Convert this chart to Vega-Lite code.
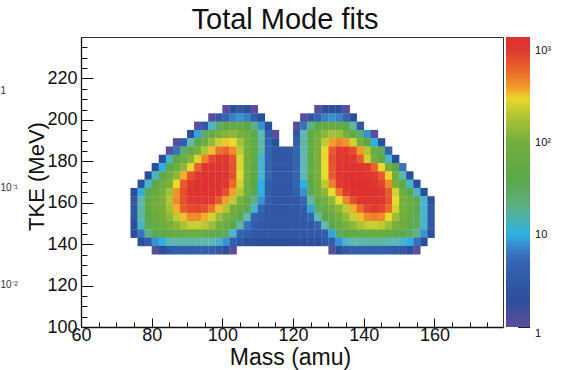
{
"$schema": "https://vega.github.io/schema/vega-lite/v6.json",
"autosize": {"type": "none"},
"padding": {"left": 81, "top": 37, "right": 67, "bottom": 43},
"width": 422,
"height": 290,
"background": "white",
"title": {"text": "Total Mode fits", "fontSize": 29, "font": "Liberation Sans", "fontWeight": "normal", "color": "#111", "anchor": "middle", "frame": "group", "baseline": "alphabetic", "offset": 7, "dx": -7, "dy": 31},
"config": {"view": {"stroke": "#333", "strokeWidth": 1}, "font": "Liberation Sans"},
"resolve": {"scale": {"y": "independent"}, "axis": {"x": "independent", "y": "independent"}},
"layer": [
{
"data": {"values": [
{"m":100,"t":203,"c":1},{"m":102,"t":203,"c":2},{"m":104,"t":203,"c":3},{"m":106,"t":203,"c":2},{"m":108,"t":203,"c":1},
{"m":96,"t":199,"c":1},{"m":98,"t":199,"c":3},{"m":100,"t":199,"c":5},{"m":102,"t":199,"c":7},{"m":104,"t":199,"c":8},{"m":106,"t":199,"c":7},{"m":108,"t":199,"c":4},{"m":110,"t":199,"c":2},
{"m":92,"t":195,"c":1},{"m":94,"t":195,"c":3},{"m":96,"t":195,"c":11},{"m":98,"t":195,"c":28},{"m":100,"t":195,"c":45},{"m":102,"t":195,"c":55},{"m":104,"t":195,"c":55},{"m":106,"t":195,"c":40},{"m":108,"t":195,"c":20},{"m":110,"t":195,"c":8},{"m":112,"t":195,"c":2},
{"m":90,"t":191,"c":2},{"m":92,"t":191,"c":9},{"m":94,"t":191,"c":28},{"m":96,"t":191,"c":60},{"m":98,"t":191,"c":100},{"m":100,"t":191,"c":140},{"m":102,"t":191,"c":150},{"m":104,"t":191,"c":130},{"m":106,"t":191,"c":90},{"m":108,"t":191,"c":45},{"m":110,"t":191,"c":12},{"m":112,"t":191,"c":4},{"m":114,"t":191,"c":1},
{"m":86,"t":187,"c":1},{"m":88,"t":187,"c":4},{"m":90,"t":187,"c":12},{"m":92,"t":187,"c":40},{"m":94,"t":187,"c":85},{"m":96,"t":187,"c":160},{"m":98,"t":187,"c":240},{"m":100,"t":187,"c":320},{"m":102,"t":187,"c":300},{"m":104,"t":187,"c":180},{"m":106,"t":187,"c":110},{"m":108,"t":187,"c":50},{"m":110,"t":187,"c":15},{"m":112,"t":187,"c":5},{"m":114,"t":187,"c":2},
{"m":84,"t":183,"c":1},{"m":86,"t":183,"c":6},{"m":88,"t":183,"c":25},{"m":90,"t":183,"c":60},{"m":92,"t":183,"c":120},{"m":94,"t":183,"c":200},{"m":96,"t":183,"c":330},{"m":98,"t":183,"c":550},{"m":100,"t":183,"c":650},{"m":102,"t":183,"c":450},{"m":104,"t":183,"c":220},{"m":106,"t":183,"c":120},{"m":108,"t":183,"c":50},{"m":110,"t":183,"c":14},{"m":112,"t":183,"c":5},{"m":114,"t":183,"c":3},
{"m":82,"t":179,"c":2},{"m":84,"t":179,"c":11},{"m":86,"t":179,"c":40},{"m":88,"t":179,"c":80},{"m":90,"t":179,"c":140},{"m":92,"t":179,"c":260},{"m":94,"t":179,"c":480},{"m":96,"t":179,"c":850},{"m":98,"t":179,"c":1100},{"m":100,"t":179,"c":1100},{"m":102,"t":179,"c":750},{"m":104,"t":179,"c":260},{"m":106,"t":179,"c":120},{"m":108,"t":179,"c":50},{"m":110,"t":179,"c":11},{"m":112,"t":179,"c":5},{"m":114,"t":179,"c":3},
{"m":80,"t":175,"c":2},{"m":82,"t":175,"c":10},{"m":84,"t":175,"c":45},{"m":86,"t":175,"c":80},{"m":88,"t":175,"c":150},{"m":90,"t":175,"c":300},{"m":92,"t":175,"c":650},{"m":94,"t":175,"c":1100},{"m":96,"t":175,"c":1300},{"m":98,"t":175,"c":1300},{"m":100,"t":175,"c":1200},{"m":102,"t":175,"c":800},{"m":104,"t":175,"c":260},{"m":106,"t":175,"c":110},{"m":108,"t":175,"c":45},{"m":110,"t":175,"c":11},{"m":112,"t":175,"c":5},{"m":114,"t":175,"c":3},
{"m":78,"t":171,"c":2},{"m":80,"t":171,"c":11},{"m":82,"t":171,"c":45},{"m":84,"t":171,"c":90},{"m":86,"t":171,"c":150},{"m":88,"t":171,"c":350},{"m":90,"t":171,"c":800},{"m":92,"t":171,"c":1100},{"m":94,"t":171,"c":1300},{"m":96,"t":171,"c":1400},{"m":98,"t":171,"c":1300},{"m":100,"t":171,"c":1200},{"m":102,"t":171,"c":800},{"m":104,"t":171,"c":280},{"m":106,"t":171,"c":110},{"m":108,"t":171,"c":45},{"m":110,"t":171,"c":11},{"m":112,"t":171,"c":5},{"m":114,"t":171,"c":3},
{"m":76,"t":167,"c":2},{"m":78,"t":167,"c":11},{"m":80,"t":167,"c":45},{"m":82,"t":167,"c":80},{"m":84,"t":167,"c":130},{"m":86,"t":167,"c":280},{"m":88,"t":167,"c":700},{"m":90,"t":167,"c":1000},{"m":92,"t":167,"c":1300},{"m":94,"t":167,"c":1400},{"m":96,"t":167,"c":1400},{"m":98,"t":167,"c":1300},{"m":100,"t":167,"c":1100},{"m":102,"t":167,"c":600},{"m":104,"t":167,"c":250},{"m":106,"t":167,"c":100},{"m":108,"t":167,"c":40},{"m":110,"t":167,"c":10},{"m":112,"t":167,"c":4},{"m":114,"t":167,"c":3},
{"m":74,"t":163,"c":2},{"m":76,"t":163,"c":10},{"m":78,"t":163,"c":35},{"m":80,"t":163,"c":70},{"m":82,"t":163,"c":110},{"m":84,"t":163,"c":180},{"m":86,"t":163,"c":420},{"m":88,"t":163,"c":800},{"m":90,"t":163,"c":1100},{"m":92,"t":163,"c":1300},{"m":94,"t":163,"c":1350},{"m":96,"t":163,"c":1300},{"m":98,"t":163,"c":1200},{"m":100,"t":163,"c":800},{"m":102,"t":163,"c":380},{"m":104,"t":163,"c":200},{"m":106,"t":163,"c":90},{"m":108,"t":163,"c":35},{"m":110,"t":163,"c":10},{"m":112,"t":163,"c":4},{"m":114,"t":163,"c":3},
{"m":74,"t":159,"c":3},{"m":76,"t":159,"c":14},{"m":78,"t":159,"c":50},{"m":80,"t":159,"c":90},{"m":82,"t":159,"c":130},{"m":84,"t":159,"c":200},{"m":86,"t":159,"c":450},{"m":88,"t":159,"c":800},{"m":90,"t":159,"c":1000},{"m":92,"t":159,"c":1200},{"m":94,"t":159,"c":1200},{"m":96,"t":159,"c":1000},{"m":98,"t":159,"c":700},{"m":100,"t":159,"c":380},{"m":102,"t":159,"c":220},{"m":104,"t":159,"c":130},{"m":106,"t":159,"c":60},{"m":108,"t":159,"c":20},{"m":110,"t":159,"c":8},{"m":112,"t":159,"c":4},{"m":114,"t":159,"c":3},
{"m":74,"t":155,"c":3},{"m":76,"t":155,"c":14},{"m":78,"t":155,"c":50},{"m":80,"t":155,"c":80},{"m":82,"t":155,"c":120},{"m":84,"t":155,"c":180},{"m":86,"t":155,"c":350},{"m":88,"t":155,"c":700},{"m":90,"t":155,"c":850},{"m":92,"t":155,"c":900},{"m":94,"t":155,"c":800},{"m":96,"t":155,"c":550},{"m":98,"t":155,"c":330},{"m":100,"t":155,"c":200},{"m":102,"t":155,"c":120},{"m":104,"t":155,"c":70},{"m":106,"t":155,"c":35},{"m":108,"t":155,"c":11},{"m":110,"t":155,"c":5},{"m":112,"t":155,"c":3},{"m":114,"t":155,"c":3},
{"m":74,"t":151,"c":3},{"m":76,"t":151,"c":13},{"m":78,"t":151,"c":45},{"m":80,"t":151,"c":75},{"m":82,"t":151,"c":105},{"m":84,"t":151,"c":150},{"m":86,"t":151,"c":220},{"m":88,"t":151,"c":330},{"m":90,"t":151,"c":450},{"m":92,"t":151,"c":450},{"m":94,"t":151,"c":350},{"m":96,"t":151,"c":250},{"m":98,"t":151,"c":170},{"m":100,"t":151,"c":110},{"m":102,"t":151,"c":70},{"m":104,"t":151,"c":40},{"m":106,"t":151,"c":12},{"m":108,"t":151,"c":5},{"m":110,"t":151,"c":4},{"m":112,"t":151,"c":3},{"m":114,"t":151,"c":3},
{"m":74,"t":147,"c":2},{"m":76,"t":147,"c":11},{"m":78,"t":147,"c":35},{"m":80,"t":147,"c":60},{"m":82,"t":147,"c":85},{"m":84,"t":147,"c":115},{"m":86,"t":147,"c":150},{"m":88,"t":147,"c":190},{"m":90,"t":147,"c":230},{"m":92,"t":147,"c":240},{"m":94,"t":147,"c":210},{"m":96,"t":147,"c":170},{"m":98,"t":147,"c":120},{"m":100,"t":147,"c":75},{"m":102,"t":147,"c":40},{"m":104,"t":147,"c":14},{"m":106,"t":147,"c":6},{"m":108,"t":147,"c":4},{"m":110,"t":147,"c":3},{"m":112,"t":147,"c":3},{"m":114,"t":147,"c":3},
{"m":74,"t":143,"c":2},{"m":76,"t":143,"c":6},{"m":78,"t":143,"c":20},{"m":80,"t":143,"c":35},{"m":82,"t":143,"c":48},{"m":84,"t":143,"c":60},{"m":86,"t":143,"c":70},{"m":88,"t":143,"c":75},{"m":90,"t":143,"c":75},{"m":92,"t":143,"c":70},{"m":94,"t":143,"c":65},{"m":96,"t":143,"c":55},{"m":98,"t":143,"c":45},{"m":100,"t":143,"c":30},{"m":102,"t":143,"c":11},{"m":104,"t":143,"c":5},{"m":106,"t":143,"c":4},{"m":108,"t":143,"c":3},{"m":110,"t":143,"c":3},{"m":112,"t":143,"c":3},{"m":114,"t":143,"c":3},
{"m":76,"t":139,"c":2},{"m":78,"t":139,"c":4},{"m":80,"t":139,"c":8},{"m":82,"t":139,"c":10},{"m":84,"t":139,"c":12},{"m":86,"t":139,"c":13},{"m":88,"t":139,"c":14},{"m":90,"t":139,"c":14},{"m":92,"t":139,"c":14},{"m":94,"t":139,"c":13},{"m":96,"t":139,"c":12},{"m":98,"t":139,"c":11},{"m":100,"t":139,"c":8},{"m":102,"t":139,"c":4},{"m":104,"t":139,"c":3},{"m":106,"t":139,"c":2},{"m":108,"t":139,"c":2},{"m":110,"t":139,"c":2},{"m":112,"t":139,"c":2},{"m":114,"t":139,"c":2},
{"m":80,"t":135,"c":1},{"m":82,"t":135,"c":2},{"m":84,"t":135,"c":3},{"m":86,"t":135,"c":4},{"m":88,"t":135,"c":4},{"m":90,"t":135,"c":4},{"m":92,"t":135,"c":4},{"m":94,"t":135,"c":4},{"m":96,"t":135,"c":4},{"m":98,"t":135,"c":3},{"m":100,"t":135,"c":2},{"m":102,"t":135,"c":1},
{"m":126,"t":203,"c":1},{"m":128,"t":203,"c":2},{"m":130,"t":203,"c":2},{"m":132,"t":203,"c":2},{"m":134,"t":203,"c":1},
{"m":122,"t":199,"c":1},{"m":124,"t":199,"c":3},{"m":126,"t":199,"c":5},{"m":128,"t":199,"c":7},{"m":130,"t":199,"c":8},{"m":132,"t":199,"c":7},{"m":134,"t":199,"c":5},{"m":136,"t":199,"c":2},
{"m":120,"t":195,"c":1},{"m":122,"t":195,"c":6},{"m":124,"t":195,"c":20},{"m":126,"t":195,"c":40},{"m":128,"t":195,"c":55},{"m":130,"t":195,"c":60},{"m":132,"t":195,"c":55},{"m":134,"t":195,"c":40},{"m":136,"t":195,"c":15},{"m":138,"t":195,"c":3},
{"m":120,"t":191,"c":3},{"m":122,"t":191,"c":12},{"m":124,"t":191,"c":45},{"m":126,"t":191,"c":90},{"m":128,"t":191,"c":150},{"m":130,"t":191,"c":180},{"m":132,"t":191,"c":170},{"m":134,"t":191,"c":120},{"m":136,"t":191,"c":60},{"m":138,"t":191,"c":25},{"m":140,"t":191,"c":8},{"m":142,"t":191,"c":1},
{"m":120,"t":187,"c":4},{"m":122,"t":187,"c":15},{"m":124,"t":187,"c":50},{"m":126,"t":187,"c":120},{"m":128,"t":187,"c":220},{"m":130,"t":187,"c":380},{"m":132,"t":187,"c":480},{"m":134,"t":187,"c":420},{"m":136,"t":187,"c":250},{"m":138,"t":187,"c":110},{"m":140,"t":187,"c":40},{"m":142,"t":187,"c":10},{"m":144,"t":187,"c":2},
{"m":116,"t":183,"c":3},{"m":118,"t":183,"c":3},{"m":120,"t":183,"c":5},{"m":122,"t":183,"c":12},{"m":124,"t":183,"c":50},{"m":126,"t":183,"c":130},{"m":128,"t":183,"c":300},{"m":130,"t":183,"c":700},{"m":132,"t":183,"c":1000},{"m":134,"t":183,"c":1000},{"m":136,"t":183,"c":800},{"m":138,"t":183,"c":400},{"m":140,"t":183,"c":200},{"m":142,"t":183,"c":80},{"m":144,"t":183,"c":30},{"m":146,"t":183,"c":5},
{"m":116,"t":179,"c":3},{"m":118,"t":179,"c":3},{"m":120,"t":179,"c":5},{"m":122,"t":179,"c":12},{"m":124,"t":179,"c":50},{"m":126,"t":179,"c":130},{"m":128,"t":179,"c":300},{"m":130,"t":179,"c":800},{"m":132,"t":179,"c":1100},{"m":134,"t":179,"c":1200},{"m":136,"t":179,"c":1100},{"m":138,"t":179,"c":700},{"m":140,"t":179,"c":250},{"m":142,"t":179,"c":100},{"m":144,"t":179,"c":45},{"m":146,"t":179,"c":11},{"m":148,"t":179,"c":2},
{"m":116,"t":175,"c":3},{"m":118,"t":175,"c":3},{"m":120,"t":175,"c":5},{"m":122,"t":175,"c":12},{"m":124,"t":175,"c":50},{"m":126,"t":175,"c":120},{"m":128,"t":175,"c":280},{"m":130,"t":175,"c":750},{"m":132,"t":175,"c":1200},{"m":134,"t":175,"c":1300},{"m":136,"t":175,"c":1300},{"m":138,"t":175,"c":1200},{"m":140,"t":175,"c":1000},{"m":142,"t":175,"c":650},{"m":144,"t":175,"c":300},{"m":146,"t":175,"c":120},{"m":148,"t":175,"c":40},{"m":150,"t":175,"c":6},
{"m":116,"t":171,"c":3},{"m":118,"t":171,"c":3},{"m":120,"t":171,"c":5},{"m":122,"t":171,"c":12},{"m":124,"t":171,"c":50},{"m":126,"t":171,"c":110},{"m":128,"t":171,"c":280},{"m":130,"t":171,"c":700},{"m":132,"t":171,"c":1200},{"m":134,"t":171,"c":1400},{"m":136,"t":171,"c":1400},{"m":138,"t":171,"c":1300},{"m":140,"t":171,"c":1200},{"m":142,"t":171,"c":1000},{"m":144,"t":171,"c":700},{"m":146,"t":171,"c":300},{"m":148,"t":171,"c":80},{"m":150,"t":171,"c":14},{"m":152,"t":171,"c":2},
{"m":116,"t":167,"c":3},{"m":118,"t":167,"c":3},{"m":120,"t":167,"c":5},{"m":122,"t":167,"c":10},{"m":124,"t":167,"c":40},{"m":126,"t":167,"c":100},{"m":128,"t":167,"c":220},{"m":130,"t":167,"c":500},{"m":132,"t":167,"c":1000},{"m":134,"t":167,"c":1300},{"m":136,"t":167,"c":1400},{"m":138,"t":167,"c":1400},{"m":140,"t":167,"c":1300},{"m":142,"t":167,"c":1200},{"m":144,"t":167,"c":900},{"m":146,"t":167,"c":450},{"m":148,"t":167,"c":120},{"m":150,"t":167,"c":45},{"m":152,"t":167,"c":11},{"m":154,"t":167,"c":2},
{"m":116,"t":163,"c":3},{"m":118,"t":163,"c":3},{"m":120,"t":163,"c":4},{"m":122,"t":163,"c":8},{"m":124,"t":163,"c":35},{"m":126,"t":163,"c":80},{"m":128,"t":163,"c":150},{"m":130,"t":163,"c":280},{"m":132,"t":163,"c":550},{"m":134,"t":163,"c":1000},{"m":136,"t":163,"c":1300},{"m":138,"t":163,"c":1350},{"m":140,"t":163,"c":1350},{"m":142,"t":163,"c":1300},{"m":144,"t":163,"c":1100},{"m":146,"t":163,"c":700},{"m":148,"t":163,"c":250},{"m":150,"t":163,"c":80},{"m":152,"t":163,"c":40},{"m":154,"t":163,"c":11},{"m":156,"t":163,"c":2},
{"m":116,"t":159,"c":3},{"m":118,"t":159,"c":3},{"m":120,"t":159,"c":3},{"m":122,"t":159,"c":5},{"m":124,"t":159,"c":15},{"m":126,"t":159,"c":50},{"m":128,"t":159,"c":100},{"m":130,"t":159,"c":150},{"m":132,"t":159,"c":280},{"m":134,"t":159,"c":480},{"m":136,"t":159,"c":800},{"m":138,"t":159,"c":1100},{"m":140,"t":159,"c":1200},{"m":142,"t":159,"c":1200},{"m":144,"t":159,"c":1100},{"m":146,"t":159,"c":750},{"m":148,"t":159,"c":280},{"m":150,"t":159,"c":110},{"m":152,"t":159,"c":70},{"m":154,"t":159,"c":35},{"m":156,"t":159,"c":11},{"m":158,"t":159,"c":2},
{"m":116,"t":155,"c":3},{"m":118,"t":155,"c":3},{"m":120,"t":155,"c":3},{"m":122,"t":155,"c":4},{"m":124,"t":155,"c":9},{"m":126,"t":155,"c":30},{"m":128,"t":155,"c":60},{"m":130,"t":155,"c":100},{"m":132,"t":155,"c":150},{"m":134,"t":155,"c":220},{"m":136,"t":155,"c":350},{"m":138,"t":155,"c":600},{"m":140,"t":155,"c":900},{"m":142,"t":155,"c":1000},{"m":144,"t":155,"c":900},{"m":146,"t":155,"c":600},{"m":148,"t":155,"c":250},{"m":150,"t":155,"c":110},{"m":152,"t":155,"c":70},{"m":154,"t":155,"c":35},{"m":156,"t":155,"c":11},{"m":158,"t":155,"c":3},
{"m":116,"t":151,"c":3},{"m":118,"t":151,"c":3},{"m":120,"t":151,"c":3},{"m":122,"t":151,"c":3},{"m":124,"t":151,"c":5},{"m":126,"t":151,"c":12},{"m":128,"t":151,"c":40},{"m":130,"t":151,"c":70},{"m":132,"t":151,"c":110},{"m":134,"t":151,"c":160},{"m":136,"t":151,"c":230},{"m":138,"t":151,"c":330},{"m":140,"t":151,"c":450},{"m":142,"t":151,"c":500},{"m":144,"t":151,"c":450},{"m":146,"t":151,"c":300},{"m":148,"t":151,"c":170},{"m":150,"t":151,"c":100},{"m":152,"t":151,"c":60},{"m":154,"t":151,"c":30},{"m":156,"t":151,"c":11},{"m":158,"t":151,"c":3},
{"m":116,"t":147,"c":3},{"m":118,"t":147,"c":3},{"m":120,"t":147,"c":3},{"m":122,"t":147,"c":3},{"m":124,"t":147,"c":3},{"m":126,"t":147,"c":5},{"m":128,"t":147,"c":12},{"m":130,"t":147,"c":40},{"m":132,"t":147,"c":70},{"m":134,"t":147,"c":110},{"m":136,"t":147,"c":150},{"m":138,"t":147,"c":190},{"m":140,"t":147,"c":230},{"m":142,"t":147,"c":240},{"m":144,"t":147,"c":220},{"m":146,"t":147,"c":170},{"m":148,"t":147,"c":120},{"m":150,"t":147,"c":80},{"m":152,"t":147,"c":50},{"m":154,"t":147,"c":30},{"m":156,"t":147,"c":11},{"m":158,"t":147,"c":3},
{"m":116,"t":143,"c":3},{"m":118,"t":143,"c":3},{"m":120,"t":143,"c":3},{"m":122,"t":143,"c":3},{"m":124,"t":143,"c":3},{"m":126,"t":143,"c":3},{"m":128,"t":143,"c":4},{"m":130,"t":143,"c":9},{"m":132,"t":143,"c":30},{"m":134,"t":143,"c":45},{"m":136,"t":143,"c":55},{"m":138,"t":143,"c":65},{"m":140,"t":143,"c":70},{"m":142,"t":143,"c":75},{"m":144,"t":143,"c":70},{"m":146,"t":143,"c":60},{"m":148,"t":143,"c":50},{"m":150,"t":143,"c":40},{"m":152,"t":143,"c":30},{"m":154,"t":143,"c":20},{"m":156,"t":143,"c":8},{"m":158,"t":143,"c":2},
{"m":116,"t":139,"c":2},{"m":118,"t":139,"c":2},{"m":120,"t":139,"c":2},{"m":122,"t":139,"c":2},{"m":124,"t":139,"c":2},{"m":126,"t":139,"c":2},{"m":128,"t":139,"c":3},{"m":130,"t":139,"c":4},{"m":132,"t":139,"c":8},{"m":134,"t":139,"c":11},{"m":136,"t":139,"c":12},{"m":138,"t":139,"c":13},{"m":140,"t":139,"c":14},{"m":142,"t":139,"c":14},{"m":144,"t":139,"c":14},{"m":146,"t":139,"c":13},{"m":148,"t":139,"c":12},{"m":150,"t":139,"c":11},{"m":152,"t":139,"c":10},{"m":154,"t":139,"c":6},{"m":156,"t":139,"c":2},
{"m":130,"t":135,"c":1},{"m":132,"t":135,"c":2},{"m":134,"t":135,"c":3},{"m":136,"t":135,"c":4},{"m":138,"t":135,"c":4},{"m":140,"t":135,"c":4},{"m":142,"t":135,"c":4},{"m":144,"t":135,"c":4},{"m":146,"t":135,"c":4},{"m":148,"t":135,"c":3},{"m":150,"t":135,"c":3},{"m":152,"t":135,"c":2},{"m":154,"t":135,"c":1}
]},
"transform": [{"calculate": "datum.m + 2.08", "as": "m2"}, {"calculate": "datum.t + 4.15", "as": "t2"}],
"mark": {"type": "rect"},
"encoding": {
"x": {"field": "m", "type": "quantitative", "scale": {"domain": [60, 179.4], "nice": false, "zero": false}, "axis": {"orient": "bottom", "values": [60, 80, 100, 120, 140, 160], "tickSize": -9, "tickColor": "#111", "domainColor": "#111", "domainWidth": 1.3, "labelFontSize": 18, "labelColor": "#111", "labelPadding": 8.5, "labelFlush": false, "grid": false, "title": "Mass (amu)", "titleFontSize": 23, "titleFontWeight": "normal", "titleColor": "#111", "titleX": 209, "titleY": 37, "titleBaseline": "alphabetic", "titleAlign": "center"}},
"x2": {"field": "m2"},
"y": {"field": "t", "type": "quantitative", "scale": {"domain": [100, 240], "nice": false, "zero": false}, "axis": {"orient": "left", "values": [100, 120, 140, 160, 180, 200, 220], "tickSize": -12, "tickColor": "#111", "domainColor": "#111", "domainWidth": 1.3, "labelFontSize": 18, "labelColor": "#111", "labelPadding": 16, "labelFlush": false, "grid": false, "title": "TKE (MeV)", "titleFontSize": 22, "titleFontWeight": "normal", "titleColor": "#111", "titleX": -45, "titleY": 139, "titleAngle": -90, "titleBaseline": "middle", "titleAlign": "center"}},
"y2": {"field": "t2"},
"color": {"field": "c", "type": "quantitative", "scale": {"type": "log", "domain": [1, 1.5, 2, 5, 7, 10, 12, 25, 40, 130, 240, 290, 360, 600, 1000, 1400], "range": ["#5a4e9c", "#3d4d9f", "#2c4f9c", "#3464b0", "#3a80c4", "#2eb0e4", "#5fb8b5", "#5cad70", "#5aa84a", "#7ab03a", "#c8d030", "#ebe02a", "#f3a52a", "#ea6a2a", "#e03a30", "#de3030"], "interpolate": "rgb"}, "legend": {"type": "gradient", "orient": "none", "legendX": 425, "legendY": 0, "direction": "vertical", "gradientLength": 290, "gradientThickness": 24, "gradientStrokeWidth": 0, "title": null, "padding": 0, "values": [1, 10, 100, 1000], "labelExpr": "''", "labelOpacity": 0}}
}
},
{
"data": {"values": [{"p": 100}]},
"mark": {"type": "point", "opacity": 0},
"encoding": {
"x": {"field": "p", "type": "quantitative", "scale": {"domain": [60, 179.4], "nice": false, "zero": false}, "axis": {"orient": "bottom", "values": [65, 70, 75, 85, 90, 95, 105, 110, 115, 125, 130, 135, 145, 150, 155, 165, 170, 175], "tickSize": -5, "tickColor": "#111", "labels": false, "domain": false, "grid": false, "title": null}},
"y": {"field": "p", "type": "quantitative", "scale": {"domain": [100, 240], "nice": false, "zero": false}, "axis": {"orient": "left", "values": [105, 110, 115, 125, 130, 135, 145, 150, 155, 165, 170, 175, 185, 190, 195, 205, 210, 215, 225, 230, 235], "tickSize": -6, "tickColor": "#111", "labels": false, "domain": false, "grid": false, "title": null}}
}
},
{
"data": {"values": [{"v": 1}, {"v": 0.1}, {"v": 0.01}]},
"mark": {"type": "point", "opacity": 0},
"encoding": {
"y": {"field": "v", "type": "quantitative", "scale": {"type": "log", "domain": [0.0037, 3.5], "nice": false}, "axis": {"orient": "left", "values": [1, 0.1, 0.01], "labelExpr": "datum.value >= 1 ? '1' : datum.value >= 0.1 ? '10⁻¹' : '10⁻²'", "domain": false, "ticks": false, "grid": false, "labelAlign": "left", "labelPadding": 81, "labelFontSize": 10, "labelColor": "#333", "labelFlush": false, "title": null}}
}
},
{
"data": {"values": [{"z": 1}, {"z": 1400}]},
"mark": {"type": "point", "opacity": 0},
"encoding": {
"y": {"field": "z", "type": "quantitative", "scale": {"type": "log", "domain": [1, 1400], "nice": false}, "axis": {"orient": "right", "offset": 26.6, "values": [1, 10, 100, 1000], "labelExpr": "datum.value >= 1000 ? '10³' : datum.value >= 100 ? '10²' : datum.value >= 10 ? '10' : '1'", "labelBaseline": {"condition": {"test": "datum.value < 2", "value": "top"}, "value": "middle"}, "tickSize": -12, "tickColor": "#222", "domain": false, "grid": false, "labelPadding": 17, "labelFontSize": 11, "labelColor": "#111", "labelFlush": false, "title": null}}
}
},
{
"data": {"values": [{"z": 1}, {"z": 1400}]},
"mark": {"type": "point", "opacity": 0},
"encoding": {
"y": {"field": "z", "type": "quantitative", "scale": {"type": "log", "domain": [1, 1400], "nice": false}, "axis": {"orient": "right", "offset": 26.6, "values": [2, 3, 4, 5, 6, 7, 8, 9, 20, 30, 40, 50, 60, 70, 80, 90, 200, 300, 400, 500, 600, 700, 800, 900], "tickSize": -6, "tickColor": "#222", "labels": false, "domain": false, "grid": false, "title": null}}
}
}
]
}
